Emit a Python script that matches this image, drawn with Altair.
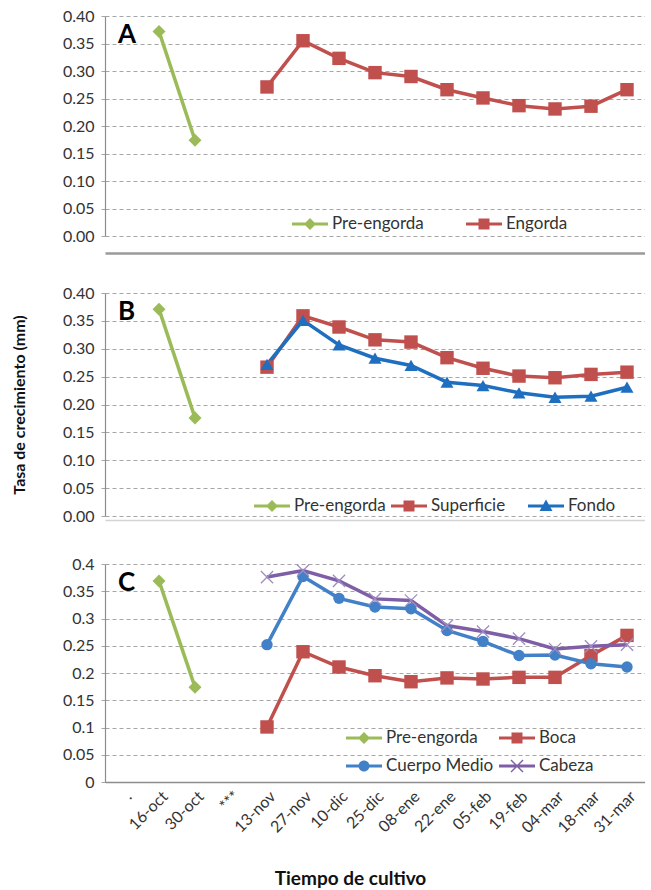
import altair as alt
import pandas as pd

# ---------------- data ----------------
categories = [".", "16-oct", "30-oct", "***", "13-nov", "27-nov", "10-dic", "25-dic",
              "08-ene", "22-ene", "05-feb", "19-feb", "04-mar", "18-mar", "31-mar"]
pre_dates = ["16-oct", "30-oct"]
main_dates = ["13-nov", "27-nov", "10-dic", "25-dic", "08-ene", "22-ene",
              "05-feb", "19-feb", "04-mar", "18-mar", "31-mar"]

pre_A = [0.372, 0.174]
engorda_A = [0.271, 0.355, 0.323, 0.297, 0.290, 0.266, 0.251, 0.237, 0.231, 0.236, 0.266]

pre_B = [0.371, 0.176]
superficie_B = [0.267, 0.359, 0.339, 0.316, 0.312, 0.284, 0.265, 0.251, 0.248, 0.254, 0.258]
fondo_B = [0.272, 0.351, 0.307, 0.283, 0.270, 0.240, 0.234, 0.221, 0.213, 0.215, 0.231]

pre_C = [0.369, 0.174]
boca_C = [0.101, 0.239, 0.211, 0.195, 0.184, 0.191, 0.189, 0.192, 0.192, 0.232, 0.269]
cuerpo_C = [0.252, 0.377, 0.337, 0.321, 0.318, 0.278, 0.258, 0.232, 0.233, 0.217, 0.211]
cabeza_C = [0.376, 0.388, 0.369, 0.336, 0.333, 0.287, 0.276, 0.263, 0.244, 0.249, 0.252]

y_ticks = [0, 0.05, 0.10, 0.15, 0.20, 0.25, 0.30, 0.35, 0.40]

# ---------------- styles ----------------
GREEN = "#9BBB59"
RED = "#C0504D"
BLUE_B = "#1F6FC0"
BLUE_C = "#4281C7"
PURPLE = "#7E5FA6"
FONT = "Lato"

X_PATH = "M-1,-1L1,1M-1,1L1,-1"
LINE = "M-1.8,-0.15H1.8V0.15H-1.8Z"
LEG = {
    "diamond": LINE + "M0,-0.6L0.6,0L0,0.6L-0.6,0Z",
    "square": LINE + "M-0.55,-0.55H0.55V0.55H-0.55Z",
    "triangle-up": LINE + "M0,-0.65L0.65,0.5H-0.65Z",
    "circle": LINE + "M-0.55,0A0.55,0.55 0 1,1 0.55,0A0.55,0.55 0 1,1 -0.55,0Z",
    "x": LINE + "M-0.65,-0.55L-0.55,-0.65L0.65,0.55L0.55,0.65Z"
               "M0.55,-0.65L0.65,-0.55L-0.55,0.65L-0.65,0.55Z",
}
MARKER_SIZE = {"diamond": 170, "square": 180, "triangle-up": 170, "circle": 130, "x": 150}


def make_df(series):
    rows = []
    for name, dates, vals in series:
        for d, v in zip(dates, vals):
            rows.append({"fecha": d, "valor": v, "serie": name})
    return pd.DataFrame(rows)


def panel(series, colors, shapes, letter, legend_opts, y_format, y_title=None,
          show_x=False, height=220, sep_offset=0, sep_color="#ffffff", sep_width=1):
    df = make_df(series)
    names = [s[0] for s in series]
    x = alt.X("fecha:N", sort=categories,
              scale=alt.Scale(type="point", domain=categories, padding=0.5),
              axis=alt.Axis(labels=show_x, ticks=False, domain=True,
                            offset=0 if show_x else sep_offset,
                            title="Tiempo de cultivo" if show_x else None,
                            labelAngle=-45, labelFont=FONT, labelFontSize=16,
                            labelColor="#333", labelPadding=6,
                            titleFont=FONT, titleFontSize=19, titleFontWeight="bold",
                            titleColor="#111", titlePadding=34, titleX=245,
                            domainColor="#8c8c8c" if show_x else sep_color,
                            domainWidth=1.5 if show_x else sep_width, grid=False))
    y = alt.Y("valor:Q",
              scale=alt.Scale(domain=[0, 0.4], nice=False, zero=True),
              axis=alt.Axis(values=y_ticks, format=y_format, title=y_title,
                            labelFont=FONT, labelFontSize=16, labelColor="#333",
                            labelPadding=4, tickSize=7, tickColor="#a6a6a6",
                            tickDash=[4, 3], domainColor="#8c8c8c", domainWidth=1.2,
                            grid=True, gridColor="#a6a6a6", gridDash=[4, 3],
                            gridWidth=1, titleFont=FONT, titleFontSize=16,
                            titleFontWeight="bold", titleColor="#111", titlePadding=35))
    layers = []
    for (name, _, _), col in zip(series, colors):
        layers.append(alt.Chart(df).transform_filter(alt.datum.serie == name)
                      .mark_line(strokeWidth=3.5, color=col, opacity=1)
                      .encode(x=x, y=y))
    for (name, _, _), col, shp in zip(series, colors, shapes):
        sub = alt.Chart(df).transform_filter(alt.datum.serie == name)
        if shp == "x":
            m = sub.mark_point(shape=X_PATH, filled=False, stroke="#a08cc4",
                               strokeWidth=1.3, size=MARKER_SIZE[shp], opacity=1)
        else:
            m = sub.mark_point(shape=shp, filled=True, fill=col, size=MARKER_SIZE[shp],
                               opacity=1, strokeWidth=0)
        layers.append(m.encode(x=x, y=y))
    leg = alt.Legend(title=None, orient="none", direction="horizontal",
                     symbolSize=400, symbolStrokeWidth=0, labelOffset=12,
                     labelFont=FONT, labelFontSize=17, labelColor="#333",
                     padding=0, **legend_opts)
    legend_layer = alt.Chart(df).transform_filter("datum.valor < 0").mark_point(
        filled=True, opacity=1).encode(
        x=x, y=y,
        color=alt.Color("serie:N", scale=alt.Scale(domain=names, range=colors),
                        legend=leg),
        shape=alt.Shape("serie:N", scale=alt.Scale(domain=names,
                                                   range=[LEG[s] for s in shapes]),
                        legend=leg))
    layers.append(legend_layer)
    return alt.layer(*layers).properties(
        width=540, height=height,
        title=alt.TitleParams(letter, anchor="start", orient="top", frame="group",
                              offset=-40, dx=13,
                              font=FONT, fontSize=26, fontWeight="bold", color="#000"))


A = panel([("Pre-engorda", pre_dates, pre_A), ("Engorda", main_dates, engorda_A)],
          [GREEN, RED], ["diamond", "square"], "A",
          dict(legendX=195, legendY=198, columns=2, columnPadding=42),
          ".2f", height=220, sep_offset=17, sep_color="#9a9a9a", sep_width=2.5)
B = panel([("Pre-engorda", pre_dates, pre_B), ("Superficie", main_dates, superficie_B),
           ("Fondo", main_dates, fondo_B)],
          [GREEN, RED, BLUE_B], ["diamond", "square", "triangle-up"], "B",
          dict(legendX=157, legendY=203, columns=3, columnPadding=5, gridAlign="all"),
          ".2f", y_title="Tasa de crecimiento (mm)", height=223,
          sep_offset=4, sep_color="#d4d4d4", sep_width=1.5)
C = panel([("Pre-engorda", pre_dates, pre_C), ("Boca", main_dates, boca_C),
           ("Cuerpo Medio", main_dates, cuerpo_C), ("Cabeza", main_dates, cabeza_C)],
          [GREEN, RED, BLUE_C, PURPLE], ["diamond", "square", "circle", "x"], "C",
          dict(legendX=249, legendY=164, columns=2, columnPadding=5, rowPadding=10,
               gridAlign="all"),
          "~g", show_x=True, height=218)

chart = alt.vconcat(A, B, C, spacing=32).properties(
    padding={"left": 11, "top": 8, "right": 0, "bottom": 0}
).configure_view(stroke=None).resolve_scale(color="independent", shape="independent")

chart.save("out.html", embed_options={"renderer": "svg", "actions": False})
